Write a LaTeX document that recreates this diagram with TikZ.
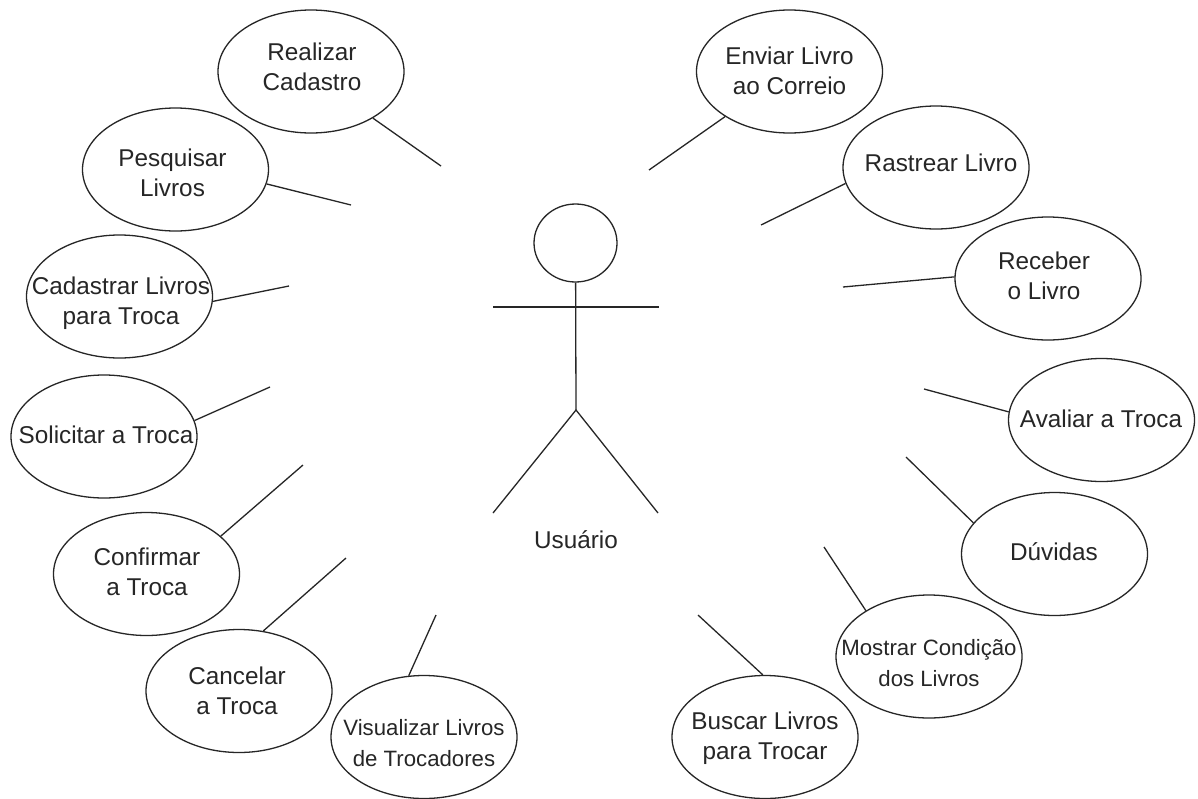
\documentclass[tikz,border=0pt]{standalone}
\usepackage{fontspec}
\setmainfont{Liberation Sans}
\usetikzlibrary{shapes.geometric}
\tikzset{
  uc/.style={draw=black!85,line width=1.3pt,ellipse,inner sep=0pt,minimum width=186pt,minimum height=123pt},
  uctext/.style={inner sep=0pt,align=center,text=black!85,font=\fontsize{24.3}{30.5}\selectfont},
  ucsmall/.style={uctext,font=\fontsize{22.2}{30.5}\selectfont},
  lnk/.style={draw=black!85,line width=1.3pt}
}
% #1 text style, #2 #3 ellipse centre, #4 #5 text centre, #6 text, #7 name
\newcommand{\UC}[7][uctext]{%
  \node[uc] (#7) at (#2pt,-#3pt) {};
  \node[#1] (#7t) at (#4pt,-#5pt) {#6};}
\begin{document}
\begin{tikzpicture}[x=1pt,y=1pt]
\useasboundingbox (0,0) rectangle (1198,-798);
\fill[white] (0,0) rectangle (1198,-798);
\UC{311}{71.5}{312}{67}{Realizar\\Cadastro}{a}
\UC{175.5}{169.5}{172.5}{173}{Pesquisar\\Livros}{b}
\UC{119.5}{296.5}{121}{303}{Cadastrar Livros\\para Troca}{c}
\UC{104}{436.5}{106}{435}{Solicitar a Troca}{d}
\UC{146.5}{574}{147}{572}{Confirmar\\a Troca}{e}
\UC{239}{691}{237}{691}{Cancelar\\a Troca}{f}
\UC[ucsmall]{424}{737}{424}{743}{Visualizar Livros\\de Trocadores}{g}
\UC{789.5}{71.5}{789.5}{71}{Enviar Livro\\ao Correio}{h}
\UC{936}{167.5}{941}{163}{Rastrear Livro}{i}
\UC{1048}{278.5}{1044}{276}{Receber\\o Livro}{j}
\UC{1101.5}{420}{1101}{419}{Avaliar a Troca}{k}
\UC{1054.5}{554}{1054}{552}{Dúvidas}{l}
\UC[ucsmall]{929}{656.5}{929}{663}{Mostrar Condição\\dos Livros}{m}
\UC{765}{737}{765}{738}{Buscar Livros\\para Trocar}{n}
\coordinate (a1) at (441,-166);
\coordinate (b1) at (351,-205);
\coordinate (c1) at (289,-286);
\coordinate (d1) at (270,-387);
\coordinate (e1) at (303,-465);
\coordinate (f1) at (346,-558);
\coordinate (g1) at (436,-615);
\coordinate (h1) at (649,-170);
\coordinate (i1) at (761,-225);
\coordinate (j1) at (843,-287);
\coordinate (k1) at (924,-389);
\coordinate (l1) at (906,-457);
\coordinate (m1) at (824,-547);
\coordinate (n1) at (698,-615);
\draw[lnk] (a.-37.9) -- (a1);
\draw[lnk] (b.-9.5) -- (b1);
\draw[lnk] (c.-3.4) -- (c1);
\draw[lnk] (d.10.9) -- (d1);
\draw[lnk] (e.27) -- (e1);
\draw[lnk] (f.68.8) -- (f1);
\draw[lnk] (g.104.7) -- (g1);
\draw[lnk] (h.215.8) -- (h1);
\draw[lnk] (i.190.7) -- (i1);
\draw[lnk] (j.179) -- (j1);
\draw[lnk] (k.175.8) -- (k1);
\draw[lnk] (l.159.2) -- (l1);
\draw[lnk] (m.144.8) -- (m1);
\draw[lnk] (n.92.8) -- (n1);
\node[ellipse,draw=black!85,line width=1.3pt,minimum width=83pt,minimum height=78pt,inner sep=0pt] (head) at (575.5,-243) {};
\coordinate (hip) at (576,-410);
\coordinate (al) at (493,-307);
\coordinate (ar) at (659,-307);
\coordinate (fl) at (493,-513);
\coordinate (fr) at (658,-513);
\draw[lnk] (head) -- (hip);
\draw[lnk] (al) -- (ar);
\draw[lnk] (fl) -- (hip) -- (fr);
\node[uctext] (lbl) at (576,-540) {Usuário};
\end{tikzpicture}
\end{document}
